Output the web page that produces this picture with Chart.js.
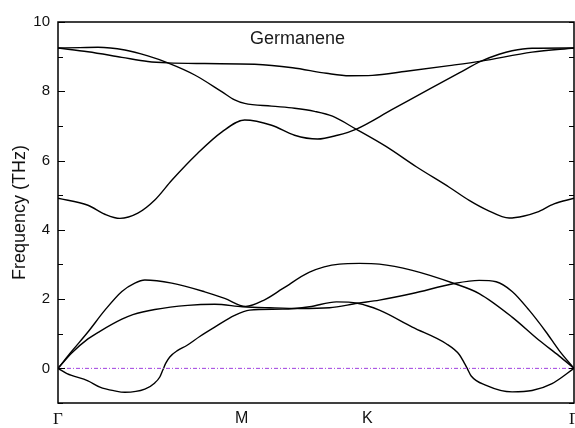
<!DOCTYPE html>
<html>
<head>
<meta charset="utf-8">
<script src="https://cdn.jsdelivr.net/npm/chart.js@4"></script>
<style>
  body { margin: 0; background: #fff; }
  #wrap { width: 575px; height: 428px; }
</style>
</head>
<body>
<div id="wrap"><canvas id="phonon"></canvas></div>
<script>
// k-path positions of the labels and the frequency bands (THz) of germanene
const pathLabels = ['Γ', 'M', 'K', 'Γ'];
const pathTicks = [0, 1.84, 3.10, 5.17];

const bandA_k = [0,0.30,0.47,0.62,0.80,0.97,1.14,1.40,1.64,1.87,2.14,2.37,2.60,2.80,2.99,3.34,3.72,4.02,4.24,4.42,4.55,4.75,5.17];
const bandA_f = [4.91,4.71,4.45,4.33,4.48,4.86,5.43,6.21,6.82,7.17,7.02,6.73,6.62,6.73,6.91,7.46,8.06,8.53,8.87,9.07,9.17,9.24,9.25];

const bandB_k = [0,0.22,0.40,0.67,0.90,1.10,1.37,1.64,1.77,1.87,2.14,2.37,2.57,2.75,2.99,3.29,3.59,3.92,4.12,4.30,4.52,4.67,4.80,4.97,5.17];
const bandB_f = [9.25,9.26,9.27,9.19,9.02,8.82,8.47,7.99,7.75,7.65,7.57,7.51,7.42,7.28,6.90,6.40,5.82,5.23,4.85,4.57,4.34,4.40,4.51,4.75,4.91];

const bandC_k = [0,0.30,0.64,0.90,1.10,1.47,1.97,2.35,2.69,2.92,3.15,3.49,3.92,4.24,4.75,5.17];
const bandC_f = [9.25,9.14,8.98,8.86,8.82,8.80,8.78,8.68,8.52,8.45,8.46,8.58,8.74,8.87,9.13,9.25];

const bandD_k = [0,0.14,0.30,0.47,0.64,0.77,0.87,1.14,1.47,1.67,1.88,2.07,2.25,2.52,2.82,3.02,3.22,3.55,3.97,4.22,4.55,4.82,5.02,5.17];
const bandD_f = [0,0.50,1.05,1.68,2.22,2.46,2.55,2.46,2.21,2.02,1.79,1.98,2.30,2.78,3.01,3.03,3.01,2.83,2.45,2.16,1.48,0.81,0.36,0];

const bandE_k = [0,0.14,0.30,0.42,0.64,0.75,0.97,1.30,1.57,1.85,2.12,2.42,2.72,3.00,3.22,3.55,3.97,4.22,4.39,4.55,4.72,4.89,5.02,5.17];
const bandE_f = [0,0.45,0.85,1.07,1.42,1.55,1.70,1.82,1.85,1.78,1.75,1.73,1.75,1.88,1.97,2.16,2.45,2.54,2.50,2.22,1.68,1.05,0.52,0];

const bandF_k = [0,0.09,0.30,0.42,0.57,0.67,0.87,0.97,1.02,1.05,1.08,1.12,1.20,1.29,1.42,1.57,1.77,1.92,2.25,2.52,2.79,3.00,3.22,3.55,3.89,4.02,4.07,4.10,4.14,4.29,4.55,4.75,4.95,5.17];
const bandF_f = [0,-0.15,-0.36,-0.54,-0.65,-0.69,-0.60,-0.42,-0.25,-0.05,0.15,0.33,0.52,0.66,0.92,1.19,1.53,1.68,1.71,1.78,1.92,1.88,1.68,1.19,0.71,0.40,0.16,0,-0.22,-0.49,-0.68,-0.64,-0.44,0];

const zeroLine_k = [0, 5.17];
const zeroLine_f = [0, 0];

function toPoints(ks, fs) {
  return ks.map((k, i) => ({ x: k, y: fs[i] }));
}

function band(ks, fs) {
  return {
    data: toPoints(ks, fs),
    borderColor: '#000',
    borderWidth: 1.4,
    pointRadius: 0,
    cubicInterpolationMode: 'monotone',
    fill: false
  };
}

// frame round the plot, inward ticks on both y sides, and the label inside
const framePlugin = {
  id: 'frame',
  afterDraw(chart) {
    const c = chart.ctx;
    const a = chart.chartArea;
    const y = chart.scales.y;
    c.save();
    c.strokeStyle = '#000';
    c.lineWidth = 1.5;
    c.strokeRect(a.left, a.top, a.right - a.left, a.bottom - a.top);
    c.lineWidth = 1.2;
    y.ticks.forEach(t => {
      const py = Math.round(y.getPixelForValue(t.value)) + 0.5;
      const len = t.value % 2 === 0 ? 7 : 5;
      c.beginPath();
      c.moveTo(a.left, py);
      c.lineTo(a.left + len, py);
      c.moveTo(a.right, py);
      c.lineTo(a.right - 5, py);
      c.stroke();
    });
    c.fillStyle = '#1a1a1a';
    c.font = '18px "Liberation Sans", Arial, sans-serif';
    c.textAlign = 'center';
    c.textBaseline = 'middle';
    c.fillText('Germanene', chart.scales.x.getPixelForValue(2.40), y.getPixelForValue(9.51));
    c.restore();
  }
};

const ctx = document.getElementById('phonon');

new Chart(ctx, {
  type: 'line',
  data: {
    datasets: [
      {
        data: toPoints(zeroLine_k, zeroLine_f),
        borderColor: '#a040e0',
        borderWidth: 1,
        borderDash: [4, 2, 1, 2],
        pointRadius: 0,
        fill: false
      },
      band(bandA_k, bandA_f),
      band(bandB_k, bandB_f),
      band(bandC_k, bandC_f),
      band(bandD_k, bandD_f),
      band(bandE_k, bandE_f),
      band(bandF_k, bandF_f)
    ]
  },
  options: {
    responsive: true,
    maintainAspectRatio: false,
    animation: false,
    layout: { padding: { top: 22, right: 1, left: 0, bottom: 0 } },
    plugins: {
      legend: { display: false },
      tooltip: { enabled: false }
    },
    scales: {
      x: {
        type: 'linear',
        min: 0,
        max: 5.17,
        grid: { display: false, drawTicks: false },
        border: { display: false },
        afterBuildTicks: scale => {
          scale.ticks = pathTicks.map(v => ({ value: v }));
        },
        afterFit: scale => {
          scale.height = 25;
          scale.paddingLeft = 0;
          scale.paddingRight = 0;
        },
        ticks: {
          autoSkip: false,
          maxRotation: 0,
          padding: 6,
          color: '#111',
          font: c => {
            const lbl = pathLabels[pathTicks.indexOf(c.tick ? c.tick.value : -1)];
            return lbl === 'Γ'
              ? { family: '"Liberation Serif", "Times New Roman", serif', size: 17 }
              : { family: '"Liberation Sans", Arial, sans-serif', size: 16 };
          },
          callback: v => {
            const i = pathTicks.indexOf(v);
            return i >= 0 ? pathLabels[i] : '';
          }
        }
      },
      y: {
        min: -1,
        max: 10,
        grid: { display: false, drawTicks: false },
        border: { display: false },
        afterFit: scale => {
          scale.width = 58;
          scale.paddingTop = 0;
          scale.paddingBottom = 0;
        },
        ticks: {
          stepSize: 1,
          padding: 8,
          color: '#111',
          font: { family: '"Liberation Sans", Arial, sans-serif', size: 15 },
          callback: v => (v % 2 === 0 ? v : '')
        },
        title: {
          display: true,
          text: 'Frequency (THz)',
          color: '#111',
          padding: { top: 9, bottom: 0 },
          font: { family: '"Liberation Sans", Arial, sans-serif', size: 18 }
        }
      }
    }
  },
  plugins: [framePlugin]
});
</script>
</body>
</html>
